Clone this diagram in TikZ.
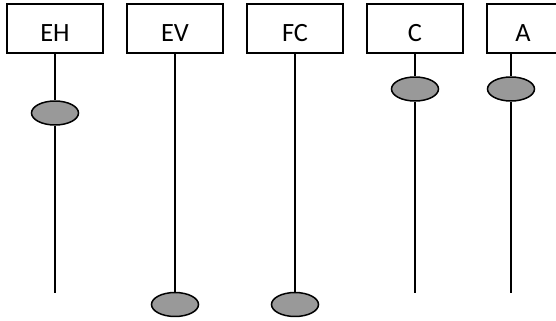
\documentclass[tikz,border=0pt]{standalone}
\usepackage{fontspec}
\setmainfont{Carlito}
\usetikzlibrary{positioning,shapes.geometric}

\tikzset{
    lane/.style={draw,line width=0.85pt,minimum width=1.92cm,minimum height=0.98cm,
        text height=0.52cm,text depth=0pt,font=\fontsize{15}{17}\selectfont},
    dot/.style={draw,ellipse,line width=0.85pt,fill=dotgray,minimum width=0.94cm,minimum height=0.48cm,inner sep=0pt},
    wire/.style={line width=0.85pt}
}
\definecolor{dotgray}{RGB}{153,153,153}

\begin{document}
\begin{tikzpicture}[x=0.02cm,y=-0.02cm]
    \useasboundingbox (0,0) rectangle (556,321);
    \clip (0,0) rectangle (556,321);
    % boxes
    \node[lane] (eh) at (55,28.5) {EH};
    \node[lane] (ev) at (175,28.5) {EV};
    \node[lane] (fc) at (295,28.5) {FC};
    \node[lane] (c) at (415,28.5) {C};
    \node[lane,minimum width=1.44cm] (a) at (523,28.5) {A};
    % line ends
    \coordinate (ehEnd) at (55,293);
    \coordinate (cEnd) at (415,293);
    \coordinate (aEnd) at (511,293);
    \coordinate (aTop) at (a.south -| aEnd);
    % dots
    \node[dot] (ehDot) at (55,113) {};
    \node[dot] (evDot) at (175,304.5) {};
    \node[dot] (fcDot) at (295,304.5) {};
    \node[dot] (cDot) at (415,89) {};
    \node[dot] (aDot) at (511,89) {};
    % wires
    \draw[wire] (eh) -- (ehDot) -- (ehEnd);
    \draw[wire] (ev) -- (evDot);
    \draw[wire] (fc) -- (fcDot);
    \draw[wire] (c) -- (cDot) -- (cEnd);
    \draw[wire] (aTop) -- (aDot) -- (aEnd);
\end{tikzpicture}
\end{document}
